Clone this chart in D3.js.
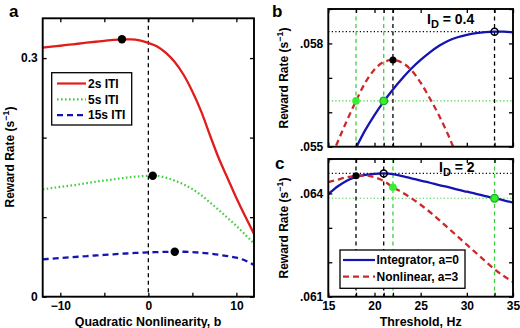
<!DOCTYPE html>
<html>
<head>
<meta charset="utf-8">
<script src="https://cdn.jsdelivr.net/npm/d3@7"></script>
<style>
  body { margin: 0; background: #fff; }
  svg { display: block; }
  text { font-family: "Liberation Sans", Arial, sans-serif; font-weight: bold; fill: #000; }
</style>
</head>
<body>
<div id="chart"></div>
<script>
// ---- panel a : reward rate vs quadratic nonlinearity ----
const nonlinB = [-12, -11, -10, -9, -8, -7, -6, -5, -4, -3, -2, -1, 0, 1, 2, 3, 4, 5, 6, 7, 8, 9, 10, 11, 12]
const iti2s = [0.313, 0.3143, 0.3155, 0.3168, 0.318, 0.3193, 0.3205, 0.3216, 0.3229, 0.3236, 0.3234, 0.3222, 0.319, 0.3145, 0.3065, 0.295, 0.279, 0.258, 0.233, 0.203, 0.174, 0.149, 0.124, 0.101, 0.079]
const iti5s = [0.135, 0.1365, 0.138, 0.1395, 0.141, 0.1428, 0.1445, 0.146, 0.1475, 0.149, 0.1503, 0.1513, 0.152, 0.1518, 0.1497, 0.1458, 0.1412, 0.1352, 0.1277, 0.1185, 0.109, 0.099, 0.089, 0.078, 0.067]
const iti15s = [0.047, 0.0478, 0.0486, 0.0494, 0.0502, 0.051, 0.0518, 0.0526, 0.0533, 0.054, 0.0547, 0.0552, 0.0557, 0.0561, 0.0564, 0.0566, 0.0565, 0.0561, 0.0553, 0.0541, 0.0527, 0.051, 0.049, 0.0455, 0.0398]
const itiNames = ['2s ITI', '5s ITI', '15s ITI']
const optB = [-3, 0.5, 3]
const optRate = [0.3237, 0.1521, 0.0566]

// ---- panels b, c : reward rate vs threshold ----
const thresholds = [15, 16, 17, 18, 19, 20, 21, 22, 23, 24, 25, 26, 27, 28, 29, 30, 31, 32, 33, 34, 35]
const integratorLow = [null, null, 0.05445, 0.05497, 0.05548, 0.05592, 0.05631, 0.05666, 0.05698, 0.05727, 0.05752, 0.05774, 0.05793, 0.05808, 0.05818, 0.05825, 0.0583, 0.05833, 0.05834, 0.05834, 0.05832]
const nonlinearLow = [0.0545, 0.05513, 0.05575, 0.05633, 0.05686, 0.05724, 0.05746, 0.05752, 0.05744, 0.05722, 0.05686, 0.0564, 0.0559, 0.05533, 0.05468, null, null, null, null, null, null]
const integratorHigh = [0.06398, 0.0642, 0.06437, 0.06448, 0.06454, 0.06457, 0.06458, 0.06456, 0.0645, 0.06444, 0.06437, 0.06431, 0.06424, 0.06418, 0.06411, 0.06405, 0.06399, 0.06392, 0.06386, 0.0638, 0.06373]
const nonlinearHigh = [0.06433, 0.0644, 0.06447, 0.06451, 0.06452, 0.06447, 0.06436, 0.06418, 0.06403, 0.06386, 0.06367, 0.06346, 0.06323, 0.06299, 0.06275, 0.06251, 0.06227, 0.06203, 0.0618, 0.0616, 0.06143]
const modelNames = ['Integrator, a=0', 'Nonlinear, a=3']

// optimal thresholds for each drift (black) and the other drift's optimum (green)
const optLow = { intT: 33, intR: 0.05834, nonT: 22, nonR: 0.05752, greenNonT: 18, greenIntT: 21, greenR: 0.05633 }
const optHigh = { intT: 21, intR: 0.06458, nonT: 18, nonR: 0.06451, greenNonT: 22, greenNonR: 0.06418, greenIntT: 33, greenR: 0.06386 }

const xTicksA = [-10, -5, 0, 5, 10]
const xLabelsA = ['\u221210', '', '0', '', '10']
const yTicksA = [0, 0.1, 0.2, 0.3]
const yLabelsA = ['0', '', '', '0.3']
const xTicksT = [15, 18, 20, 21, 22, 25, 30, 33, 35]
const xLabelsT = ['15', '', '20', '', '', '25', '30', '', '35']
const yTicksB = [0.055, 0.056, 0.057, 0.058, 0.059]
const yLabelsB = ['.055', '', '', '.058', '']
const yTicksC = [0.061, 0.062, 0.063, 0.064, 0.065]
const yLabelsC = ['.061', '', '', '.064', '']

const RED = '#e21b1b'
const DRED = '#cc2a2a'
const GREEN = '#3fcf3f'
const BLUE = '#1414b0'
const FS = 12

const svg = d3.select('#chart').append('svg')
  .attr('width', 520).attr('height', 328)

function makePanel (id, box, xDom, yDom, xt, xl, yt, yl) {
  const x = d3.scaleLinear().domain(xDom).range([box.x0, box.x1])
  const y = d3.scaleLinear().domain(yDom).range([box.y1, box.y0])
  svg.append('clipPath').attr('id', 'clip-' + id)
    .append('rect')
    .attr('x', box.x0).attr('y', box.y0)
    .attr('width', box.x1 - box.x0).attr('height', box.y1 - box.y0)
  const g = svg.append('g').attr('clip-path', `url(#clip-${id})`)
  const axes = svg.append('g')
  return { x, y, g, axes, box, xt, xl, yt, yl }
}

function drawAxes (p, showXLabels) {
  const fmtX = d => p.xl[p.xt.indexOf(d)]
  const fmtY = d => p.yl[p.yt.indexOf(d)]
  const list = [
    [d3.axisBottom(p.x).tickValues(p.xt).tickFormat(showXLabels ? fmtX : ''), `translate(0,${p.box.y1})`],
    [d3.axisTop(p.x).tickValues(p.xt).tickFormat(''), `translate(0,${p.box.y0})`],
    [d3.axisLeft(p.y).tickValues(p.yt).tickFormat(fmtY), `translate(${p.box.x0},0)`],
    [d3.axisRight(p.y).tickValues(p.yt).tickFormat(''), `translate(${p.box.x1},0)`]
  ]
  list.forEach(([ax, tr]) => {
    const a = p.axes.append('g').attr('transform', tr)
      .call(ax.tickSizeInner(-4).tickSizeOuter(0).tickPadding(5))
    a.select('.domain').remove()
    a.selectAll('line').attr('stroke', '#000').attr('stroke-width', 1.3)
    a.selectAll('text').attr('font-size', FS).attr('font-family', '"Liberation Sans", Arial, sans-serif').attr('font-weight', 'bold')
  })
  p.axes.append('rect')
    .attr('x', p.box.x0).attr('y', p.box.y0)
    .attr('width', p.box.x1 - p.box.x0).attr('height', p.box.y1 - p.box.y0)
    .attr('fill', 'none').attr('stroke', '#000').attr('stroke-width', 1.9)
}

function yLabel (cx, cy) {
  const t = svg.append('text')
    .attr('transform', `translate(${cx},${cy}) rotate(-90)`)
    .attr('text-anchor', 'middle')
    .attr('font-size', FS)
  t.append('tspan').text('Reward Rate (s')
  t.append('tspan').attr('dy', -5).attr('font-size', 9).text('\u22121')
  t.append('tspan').attr('dy', 5).text(')')
}

function curve (p, xs, ys, color, dash, width) {
  const pts = xs.map((d, i) => [d, ys[i]])
  p.g.append('path')
    .datum(pts)
    .attr('fill', 'none')
    .attr('stroke', color)
    .attr('stroke-width', width)
    .attr('stroke-dasharray', dash)
    .attr('d', d3.line()
      .defined(d => d[1] !== null)
      .x(d => p.x(d[0])).y(d => p.y(d[1]))
      .curve(d3.curveMonotoneX))
}

function vline (p, v, color) {
  p.g.append('line')
    .attr('x1', p.x(v)).attr('x2', p.x(v))
    .attr('y1', p.box.y0).attr('y2', p.box.y1)
    .attr('stroke', color).attr('stroke-width', 1.3)
    .attr('stroke-dasharray', '4,3.5')
}

function hline (p, v, color) {
  p.g.append('line')
    .attr('x1', p.box.x0).attr('x2', p.box.x1)
    .attr('y1', p.y(v)).attr('y2', p.y(v))
    .attr('stroke', color).attr('stroke-width', 1.2)
    .attr('stroke-dasharray', '1.2,2.3')
}

function marker (p, xv, yv, kind) {
  const c = p.g.append('circle')
    .attr('cx', p.x(xv)).attr('cy', p.y(yv))
  if (kind === 'black') c.attr('r', 3.5).attr('fill', '#000')
  if (kind === 'open') c.attr('r', 3.5).attr('fill', 'none').attr('stroke', '#000').attr('stroke-width', 1.6)
  if (kind === 'green') c.attr('r', 3.8).attr('fill', '#33f033')
  if (kind === 'greenOpen') c.attr('r', 3.8).attr('fill', '#33f033').attr('stroke', '#1fa81f').attr('stroke-width', 1.3)
}

// ---------- panel a ----------
const pa = makePanel('a', { x0: 42.7, x1: 254, y0: 18.3, y1: 296.7 }, [-12, 12], [0, 0.35], xTicksA, xLabelsA, yTicksA, yLabelsA)
vline(pa, 0, '#000')
curve(pa, nonlinB, iti2s, RED, null, 2.3)
curve(pa, nonlinB, iti5s, GREEN, '1.6,2.4', 2.2)
curve(pa, nonlinB, iti15s, BLUE, '6,4', 2.3)
optB.forEach((b, i) => {
  pa.g.append('circle').attr('cx', pa.x(b)).attr('cy', pa.y(optRate[i])).attr('r', 4.2).attr('fill', '#000')
})
drawAxes(pa, true)
yLabel(14, 157)
svg.append('text').attr('x', 148).attr('y', 326).attr('text-anchor', 'middle').attr('font-size', 12.4)
  .text('Quadratic Nonlinearity, b')
svg.append('text').attr('x', 9).attr('y', 17).attr('font-size', 17).text('a')

// legend a
const legA = svg.append('g')
legA.append('rect').attr('x', 51.7).attr('y', 72.7).attr('width', 80).attr('height', 52.3)
  .attr('fill', '#fff').attr('stroke', '#000').attr('stroke-width', 1.3)
const legStyles = [[RED, null], [GREEN, '1.6,2.4'], [BLUE, '6,4']]
itiNames.forEach((name, i) => {
  const yy = 83.5 + i * 15.8
  legA.append('line').attr('x1', 57).attr('x2', 86).attr('y1', yy).attr('y2', yy)
    .attr('stroke', legStyles[i][0]).attr('stroke-width', 2.2).attr('stroke-dasharray', legStyles[i][1])
  legA.append('text').attr('x', 88).attr('y', yy + 4.3).attr('font-size', FS).text(name)
})

// ---------- panel b ----------
const pb = makePanel('b', { x0: 328.3, x1: 513, y0: 9, y1: 146.7 }, [15, 35], [0.055, 0.059], xTicksT, xLabelsT, yTicksB, yLabelsB)
hline(pb, optLow.intR, '#000')
hline(pb, optLow.greenR, GREEN)
vline(pb, optLow.greenNonT, GREEN)
vline(pb, optLow.greenIntT, GREEN)
vline(pb, optLow.nonT, '#000')
vline(pb, optLow.intT, '#000')
curve(pb, thresholds, integratorLow, BLUE, null, 2.3)
curve(pb, thresholds, nonlinearLow, DRED, '6,4', 2.3)
marker(pb, optLow.nonT, optLow.nonR, 'black')
marker(pb, optLow.intT, optLow.intR, 'open')
marker(pb, optLow.greenNonT, optLow.greenR, 'green')
marker(pb, optLow.greenIntT, optLow.greenR, 'greenOpen')
drawAxes(pb, false)
yLabel(288, 78)
svg.append('text').attr('x', 272).attr('y', 17).attr('font-size', 17).text('b')
const idB = svg.append('text').attr('x', 427).attr('y', 24).attr('font-size', 14)
idB.append('tspan').text('I')
idB.append('tspan').attr('dy', 4).attr('font-size', 11).text('D')
idB.append('tspan').attr('dy', -4).text(' = 0.4')

// ---------- panel c ----------
const pc = makePanel('c', { x0: 328.3, x1: 513, y0: 159, y1: 296.7 }, [15, 35], [0.061, 0.065], xTicksT, xLabelsT, yTicksC, yLabelsC)
hline(pc, optHigh.intR, '#000')
hline(pc, optHigh.greenR, GREEN)
vline(pc, optHigh.nonT, '#000')
vline(pc, optHigh.intT, '#000')
vline(pc, optHigh.greenNonT, GREEN)
vline(pc, optHigh.greenIntT, GREEN)
curve(pc, thresholds, integratorHigh, BLUE, null, 2.3)
curve(pc, thresholds, nonlinearHigh, DRED, '6,4', 2.3)
marker(pc, optHigh.nonT, optHigh.nonR, 'black')
marker(pc, optHigh.intT, optHigh.intR, 'open')
marker(pc, optHigh.greenNonT, optHigh.greenNonR, 'green')
marker(pc, optHigh.greenIntT, optHigh.greenR, 'greenOpen')
drawAxes(pc, true)
yLabel(288, 228)
svg.append('text').attr('x', 420.7).attr('y', 326).attr('text-anchor', 'middle').attr('font-size', 12.4)
  .text('Threshold, Hz')
svg.append('text').attr('x', 275).attr('y', 169).attr('font-size', 17).text('c')
const idC = svg.append('text').attr('x', 439).attr('y', 172).attr('font-size', 14)
idC.append('tspan').text('I')
idC.append('tspan').attr('dy', 4).attr('font-size', 11).text('D')
idC.append('tspan').attr('dy', -4).text(' = 2')

// legend c
const legC = svg.append('g')
legC.append('rect').attr('x', 340).attr('y', 250).attr('width', 125).attr('height', 38.3)
  .attr('fill', '#fff').attr('stroke', '#000').attr('stroke-width', 1.3)
const legCStyles = [[BLUE, null], [DRED, '6,4']]
modelNames.forEach((name, i) => {
  const yy = 260 + i * 16.7
  legC.append('line').attr('x1', 343).attr('x2', 375).attr('y1', yy).attr('y2', yy)
    .attr('stroke', legCStyles[i][0]).attr('stroke-width', 2.2).attr('stroke-dasharray', legCStyles[i][1])
  legC.append('text').attr('x', 376.5).attr('y', yy + 4.3).attr('font-size', FS).text(name)
})
</script>
</body>
</html>
